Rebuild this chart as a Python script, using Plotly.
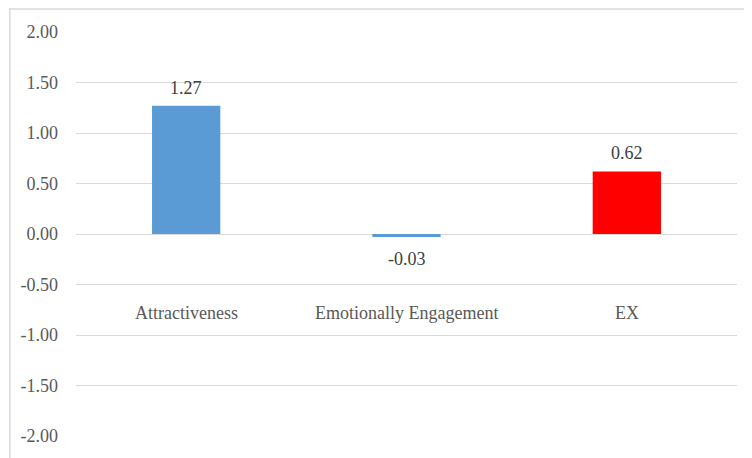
import plotly.graph_objects as go

categories = ["Attractiveness", "Emotionally Engagement", "EX"]
values = [1.27, -0.03, 0.62]
bar_colors = ["#5B9BD5", "#5B9BD5", "#FF0000"]
tick_vals = [-2.0, -1.5, -1.0, -0.5, 0.0, 0.5, 1.0, 1.5, 2.0]
tick_text = [f"{v:.2f}" for v in tick_vals]

FONT = "Liberation Serif"
TXT = "#595959"

fig = go.Figure()
fig.add_trace(go.Bar(
    x=categories, y=values,
    marker=dict(color=bar_colors, line=dict(width=0)),
    hoverinfo="skip",
))

annotations = []
for c, v in zip(categories, values):
    annotations.append(dict(
        x=c, y=v, xref="x", yref="y", text=f"{v:.2f}", showarrow=False,
        yanchor="middle",
        yshift=18 if v >= 0 else -22,
        font=dict(family=FONT, size=18, color="#404040"),
    ))
    annotations.append(dict(
        x=c, y=0, xref="x", yref="y", text=c, showarrow=False,
        yanchor="middle", yshift=-79,
        font=dict(family=FONT, size=18, color=TXT),
    ))

# page has an 8px body margin, so the figure is 744x450 offset by 8px
W, H = 744, 450
L, R, T, B = 67, 15, 24, 19
pw, ph = W - L - R, H - T - B

def px(xpix):
    return (xpix - L) / pw

def py(ypix):
    return (H - B - ypix) / ph

shapes = [
    dict(type="line", xref="paper", yref="paper", x0=px(0), x1=px(W), y0=py(0.75), y1=py(0.75),
         line=dict(color="#D9D9D9", width=1.5), layer="below"),
    dict(type="line", xref="paper", yref="paper", x0=px(0.75), x1=px(0.75), y0=py(0), y1=py(H + 5),
         line=dict(color="#D9D9D9", width=1.5), layer="below"),
]

fig.update_layout(
    width=W, height=H,
    margin=dict(l=L, r=R, t=T, b=B),
    plot_bgcolor="white", paper_bgcolor="white",
    showlegend=False,
    bargap=0.69,
    xaxis=dict(showticklabels=False, showgrid=False, zeroline=False, showline=False, ticks=""),
    yaxis=dict(range=[-2, 2], tickvals=tick_vals, ticktext=tick_text,
               showgrid=True, gridcolor="#D9D9D9", gridwidth=1,
               zeroline=True, zerolinecolor="#D9D9D9", zerolinewidth=1,
               showline=False, ticks="", ticklabelstandoff=17,
               tickfont=dict(family=FONT, size=18, color=TXT)),
    annotations=annotations,
    shapes=shapes,
)

fig.write_html("out.html")
